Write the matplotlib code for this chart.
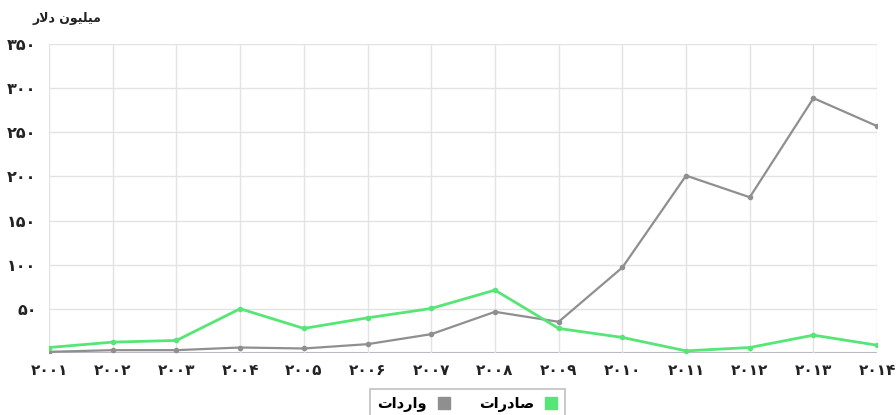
import numpy as np
import matplotlib.pyplot as plt

# values in million dollars
years = list(range(2001, 2015))
imports = [1.5, 3.4, 3.4, 6.4, 5.3, 10.2, 21.5, 46.8, 35.5, 97, 201, 176.5, 288.7, 257]
exports = [6.4, 12.5, 14.4, 50.3, 28, 40, 50.6, 71.4, 28, 17.8, 2.6, 6.4, 20.4, 9]
y_ticks = [50, 100, 150, 200, 250, 300, 350]

# Persian digits
FA_DIGITS = str.maketrans('0123456789', '۰۱۲۳۴۵۶۷۸۹')


def fa(n):
    return str(n).translate(FA_DIGITS)


# shaped arabic-script strings, glyphs given left to right
unit_label = '\uFEAD\uFEFB\uFEA9 \uFEE5\uFEEE\uFEF4\uFEE0\uFEF4\uFEE3'  # میلیون دلار
imports_label = '\uFE95\uFE8D\uFEA9\uFEAD\uFE8D\uFEED'  # واردات
exports_label = '\uFE95\uFE8D\uFEAD\uFEA9\uFE8E\uFEBB'  # صادرات

green = '#55e676'
gray = '#8f8f8f'

fig = plt.figure(figsize=(8.96, 4.15), dpi=100)
ax = fig.add_axes([0.0547, 0.149, 0.9243, 0.745])

l_imp, = ax.plot(years, imports, color=gray, lw=1.6, marker='o', ms=3)
l_exp, = ax.plot(years, exports, color=green, lw=2, marker='o', ms=3)

ax.set_xlim(2001, 2014)
ax.set_ylim(0, 350)
ax.set_xticks(years)
ax.set_xticklabels([fa(y) for y in years], fontsize=11, fontweight='bold',
                   color='#222222')
ax.set_yticks(y_ticks)
ax.set_yticklabels([fa(v) for v in y_ticks], fontsize=11.5, fontweight='bold',
                   color='#222222')
ax.tick_params(axis='x', length=0, pad=7)
ax.tick_params(axis='y', length=0, pad=9)
ax.grid(color='#e3e3e3', lw=1)
for s in ax.spines.values():
    s.set_visible(False)
ax.axhline(0, color='#b9b9cc', lw=1.5, zorder=1)

fig.text(0.036, 0.955, unit_label, fontsize=9, fontweight='bold',
         color='#222222', ha='left', va='center')

leg = fig.legend([l_imp, l_exp], [imports_label, exports_label],
                 loc='upper center', bbox_to_anchor=(0.522, 0.063), ncol=2,
                 borderaxespad=0, markerfirst=False, handlelength=0.9,
                 handleheight=0.9, fontsize=10.5, frameon=True, fancybox=False,
                 edgecolor='#b0b0b0', columnspacing=2.0, borderpad=0.5,
                 handletextpad=0.7)
leg.get_frame().set_linewidth(1.2)
# square colour boxes instead of line samples
for h, c in zip(leg.legend_handles, [gray, green]):
    h.set_marker('s')
    h.set_markersize(9)
    h.set_linestyle('none')
    h.set_color(c)
for t in leg.get_texts():
    t.set_fontweight('bold')

fig.savefig('out.png', dpi=100)
